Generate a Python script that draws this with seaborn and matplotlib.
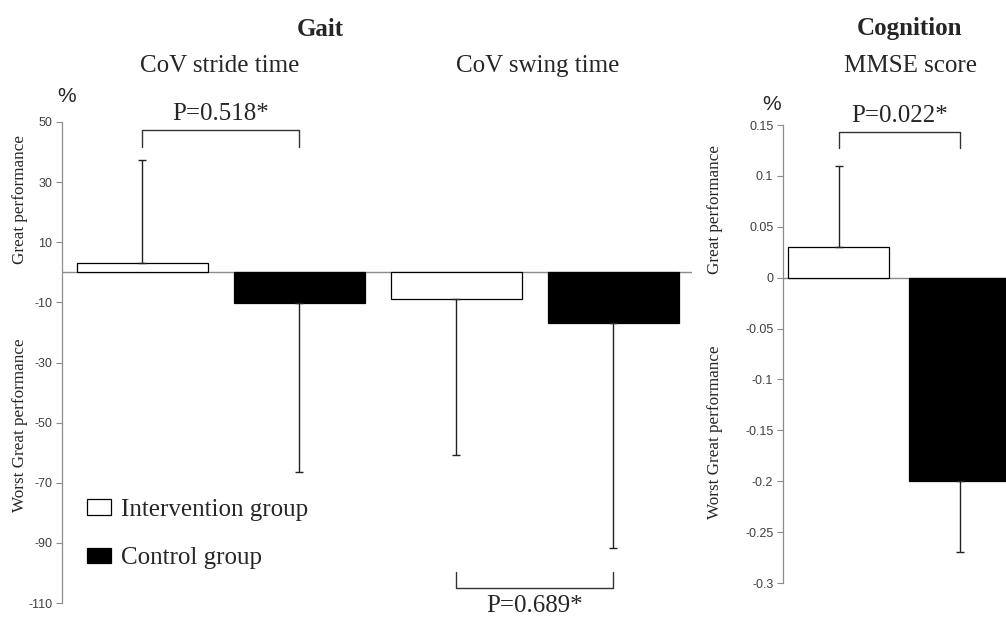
import numpy as np
import pandas as pd
import matplotlib
matplotlib.use("Agg")
import matplotlib.pyplot as plt
import seaborn as sns
from matplotlib.patches import Patch

# Data
gait_cond = ["stride_int", "stride_ctrl", "swing_int", "swing_ctrl"]
gait_group = ["Intervention group", "Control group", "Intervention group", "Control group"]
gait_mean = [3.0, -10.2, -9.0, -16.7]
gait_err = [34.4, 56.3, 51.7, 75.0]

cog_cond = ["mmse_int", "mmse_ctrl"]
cog_group = ["Intervention group", "Control group"]
cog_mean = [0.03, -0.20]
cog_err = [0.08, 0.07]

gait_ticks = [50, 30, 10, -10, -30, -50, -70, -90, -110]
cog_ticks = [0.15, 0.1, 0.05, 0, -0.05, -0.1, -0.15, -0.2, -0.25, -0.3]
cog_ticklabels = ["0.15", "0.1", "0.05", "0", "-0.05", "-0.1", "-0.15", "-0.2", "-0.25", "-0.3"]

palette = {"Intervention group": "white", "Control group": "black"}

sns.set_theme(style="white")
plt.rcParams["font.family"] = ["Liberation Serif", "DejaVu Serif"]
SANS = ["Liberation Sans", "DejaVu Sans"]
BIG = 18

W, H = 1006, 619
fig = plt.figure(figsize=(W / 100, H / 100), dpi=100)


def fx(px):
    return px / W


def fy(py):
    return 1 - py / H


ax1 = fig.add_axes([fx(62), fy(603), fx(692 - 62), fy(122) - fy(603)])
ax2 = fig.add_axes([fx(783), fy(583), fx(1006 - 783), fy(125) - fy(583)])


def draw_panel(ax, cond, group, mean, err, width):
    df = pd.DataFrame({"cond": cond, "group": group, "value": mean})
    sns.barplot(data=df, x="cond", y="value", hue="group", order=cond,
                palette=palette, dodge=False, width=width,
                edgecolor="black", linewidth=0.9, legend=False, ax=ax, zorder=2)
    pos = np.arange(len(cond))
    lower = [e if m < 0 else 0 for m, e in zip(mean, err)]
    upper = [e if m >= 0 else 0 for m, e in zip(mean, err)]
    ax.errorbar(pos, mean, yerr=[lower, upper], fmt="none", ecolor="#222222",
                elinewidth=1, capsize=3, capthick=1, zorder=3)
    ax.axhline(0, color="#8c8c8c", lw=1, zorder=1)
    for s in ["top", "right", "bottom"]:
        ax.spines[s].set_visible(False)
    ax.spines["left"].set_color("#8c8c8c")
    ax.spines["left"].set_linewidth(0.9)
    ax.set_xticks([])
    ax.set_xlabel("")
    ax.set_ylabel("")
    ax.tick_params(axis="y", left=True, length=4, width=0.8, color="#8c8c8c",
                   labelsize=9, labelcolor="#404040", pad=3)


draw_panel(ax1, gait_cond, gait_group, gait_mean, gait_err, 0.834)
ax1.set_ylim(-110, 50)
ax1.set_yticks(gait_ticks)
ax1.set_yticklabels([str(t) for t in gait_ticks], family=SANS)
ax1.set_xlim(-0.51, 3.50)

draw_panel(ax2, cog_cond, cog_group, cog_mean, cog_err, 0.835)
ax2.set_ylim(-0.3, 0.15)
ax2.set_yticks(cog_ticks)
ax2.set_yticklabels(cog_ticklabels, family=SANS)
ax2.set_xlim(-0.46, 1.38)

# significance brackets
ax1.plot([0, 0, 1, 1], [41.7, 47.3, 47.3, 41.7], color="#333333", lw=1, clip_on=False)
ax1.text(0.5, 49.0, "P=0.518*", ha="center", va="bottom", fontsize=BIG)
ax1.plot([2, 2, 3, 3], [-99.7, -105, -105, -99.7], color="#333333", lw=1, clip_on=False)
ax1.text(2.5, -107.3, "P=0.689*", ha="center", va="top", fontsize=BIG)
ax2.plot([0, 0, 1, 1], [0.127, 0.143, 0.143, 0.127], color="#333333", lw=1, clip_on=False)
ax2.text(0.5, 0.148, "P=0.022*", ha="center", va="bottom", fontsize=BIG)

# titles
fig.text(fx(320), fy(29), "Gait", ha="center", va="center", fontsize=BIG, fontweight="bold")
fig.text(fx(220), fy(66), "CoV stride time", ha="center", va="center", fontsize=BIG)
fig.text(fx(538), fy(66), "CoV swing time", ha="center", va="center", fontsize=BIG)
fig.text(fx(910), fy(29), "Cognition", ha="center", va="center", fontsize=BIG, fontweight="bold")
fig.text(fx(910), fy(66), "MMSE score", ha="center", va="center", fontsize=BIG)
fig.text(fx(67), fy(97), "%", ha="center", va="center", fontsize=15, family=SANS)
fig.text(fx(772), fy(104), "%", ha="center", va="center", fontsize=15, family=SANS)

# y labels
YL = 12.3
fig.text(fx(20), fy(200), "Great performance", rotation=90, ha="center", va="center", fontsize=YL)
fig.text(fx(20), fy(425), "Worst Great performance", rotation=90, ha="center", va="center", fontsize=YL)
fig.text(fx(715), fy(210), "Great performance", rotation=90, ha="center", va="center", fontsize=YL)
fig.text(fx(715), fy(432), "Worst Great performance", rotation=90, ha="center", va="center", fontsize=YL)

# legend
handles = [Patch(facecolor=palette[g], edgecolor="black", linewidth=0.9) for g in palette]
fig.legend(handles, list(palette), loc="upper left", bbox_to_anchor=(fx(87), fy(499)),
           frameon=False, fontsize=BIG, handlelength=0.96, handleheight=0.6,
           handletextpad=0.4, labelspacing=1.05, borderpad=0, borderaxespad=0)

fig.savefig("out.png", dpi=100)
